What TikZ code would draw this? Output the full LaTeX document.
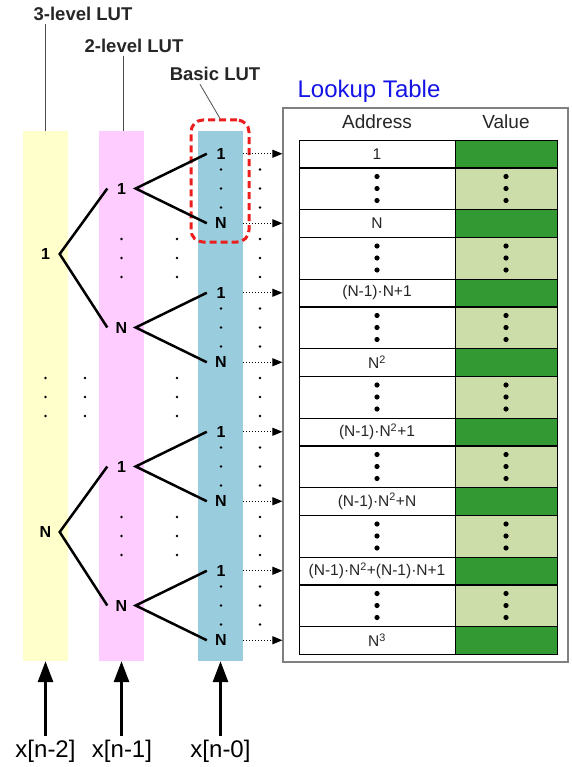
\documentclass[tikz,border=0pt]{standalone}
\usepackage{fontspec}
\setmainfont{Liberation Sans}
\usetikzlibrary{positioning, arrows.meta, calc}

\definecolor{bandyellow}{RGB}{255,255,204}
\definecolor{bandpink}{RGB}{255,204,255}
\definecolor{bandblue}{RGB}{153,204,221}
\definecolor{valuefull}{RGB}{51,153,51}
\definecolor{valuegap}{RGB}{204,221,170}
\definecolor{titleblue}{RGB}{20,20,230}
\definecolor{dashred}{RGB}{235,30,30}

\tikzset{
    band/.style={minimum width=45pt, minimum height=530pt, inner sep=0pt}, % shaded column of one LUT level
    entry/.style={font=\fontsize{16}{16}\selectfont\bfseries, minimum width=28pt, inner sep=0pt}, % the 1 ... N labels
    branch/.style={line width=2.5pt},
    levelname/.style={font=\fontsize{18.5}{18.5}\selectfont\bfseries, text=black!85},
    leader/.style={draw=black!70, line width=0.8pt},
    tap/.style={dotted, line width=1pt, -{Triangle[length=10pt, width=8pt]}}, % address going into the table
    feed/.style={line width=3pt, -{Triangle[length=21pt, width=15pt]}},
    addrcell/.style={draw, minimum width=156pt, minimum height=27.5pt, inner sep=0pt, font=\fontsize{15.5}{15.5}\selectfont, text=black!85},
    gapcell/.style={draw, minimum width=156pt, minimum height=41.5pt, inner sep=0pt},
    valcell/.style={draw, minimum width=102pt, inner sep=0pt},
    head/.style={font=\fontsize{19}{19}\selectfont, text=black!85},
    inname/.style={font=\fontsize{24}{24}\selectfont, anchor=base},
}

% three small dots, spread vertically round (x,y)
\newcommand{\gapdots}[2]{\foreach \dy in {-19,0,19} {\fill ({#1},{#2+(\dy)}) circle (1.3pt);}}
% bigger vertical ellipsis used inside the table
\newcommand{\rowdots}[2]{\foreach \dy in {-12,0,12} {\fill ({#1},{#2+(\dy)}) circle (2.6pt);}}

\begin{document}
\begin{tikzpicture}[x=1pt, y=-1pt]
    \useasboundingbox (0,0) rectangle (571,767);

    % level bands
    \node[band, fill=bandyellow] (col3) at (45.5,396) {};
    \node[band, fill=bandpink] (col2) at (121.5,396) {};
    \node[band, fill=bandblue] (col1) at (220.5,396) {};

    % level names
    \node[levelname] (l3) at (83,14) {3-level LUT};
    \node[levelname] (l2) at (134,46) {2-level LUT};
    \node[levelname] (l1) at (215,74) {Basic LUT};
    \draw[leader] (col3.north) -- (col3.north |- l3.south);
    \draw[leader] ([xshift=2pt]col2.north) -- ([xshift=2pt]col2.north |- l2.south);

    \node[draw=dashred, dashed, dash pattern=on 7pt off 4pt, line width=3pt, rounded corners=12pt,
          minimum width=58pt, minimum height=122pt] (basic) at (220,181) {};
    \draw[leader] ([xshift=-15pt]l1.south) -- (basic.north);

    % basic LUT entries
    \foreach \k in {0,...,3} {
        \node[entry] (bo\k) at (221,{153.75+139*\k}) {1};
        \node[entry] (bn\k) at (221,{223.25+139*\k}) {N};
    }
    % 2-level and 3-level entries
    \node[entry] (p0) at (121.5,188.5) {1};
    \node[entry] (p1) at (121.5,327.5) {N};
    \node[entry] (p2) at (121.5,466.5) {1};
    \node[entry] (p3) at (121.5,605.5) {N};
    \node[entry] (y0) at (45.5,254) {1};
    \node[entry] (y1) at (45.5,532) {N};

    \foreach \k in {0,...,3}
        \draw[branch] (bo\k.west) -- (p\k.east) -- (bn\k.west);
    \draw[branch] (p0.west) -- (y0.east) -- (p1.west);
    \draw[branch] (p2.west) -- (y1.east) -- (p3.west);

    % skipped entries
    \foreach \r in {0,2,4,6} {\gapdots{221}{188.5+69.5*\r}}
    \foreach \r in {0,...,6} {\gapdots{260}{188.5+69.5*\r}}
    \foreach \r in {1,3,5} {\gapdots{177}{188.5+69.5*\r}}
    \foreach \r in {1,5} {\gapdots{121.5}{188.5+69.5*\r}}
    \gapdots{85}{397}
    \gapdots{45.5}{397}

    % lookup table
    \node[font=\fontsize{24}{24}\selectfont, text=titleblue] (title) at (369,91) {Lookup Table};
    \node[draw=black!50, line width=1.2pt, minimum width=285pt, minimum height=554pt, inner sep=0pt] (table) at (425.5,385) {};
    \node[head] (addrhead) at (377,122) {Address};
    \node[head] (valhead) at (506,122) {Value};

    \foreach \i in {0,...,6} {
        \node[gapcell] (g\i) at (377,{188.5+69.5*\i}) {};
        \node[valcell, fill=valuegap, minimum height=41.5pt] (w\i) at (506,{188.5+69.5*\i}) {};
        \rowdots{377}{188.5+69.5*\i}
        \rowdots{506}{188.5+69.5*\i}
    }
    \foreach \txt [count=\i from 0] in {{1}, {N}, {(N-1)·N+1}, {N\textsuperscript{2}},
            {(N-1)·N\textsuperscript{2}+1}, {(N-1)·N\textsuperscript{2}+N},
            {(N-1)·N\textsuperscript{2}+(N-1)·N+1}, {N\textsuperscript{3}}} {
        \node[addrcell, fill=white] (a\i) at (377,{153.75+69.5*\i}) {\txt};
        \node[valcell, fill=valuefull, minimum height=27.5pt] (v\i) at (506,{153.75+69.5*\i}) {};
    }

    % addresses from the basic LUT
    \foreach \k in {0,...,3} {
        \draw[tap] (bo\k -| col1.east) -- (bo\k -| table.west);
        \draw[tap] (bn\k -| col1.east) -- (bn\k -| table.west);
    }

    % inputs
    \node[inname] (in2) at (45.5,757) {x[n-2]};
    \node[inname] (in1) at (122,757) {x[n-1]};
    \node[inname] (in0) at (220.5,757) {x[n-0]};
    \draw[feed] (in2.north -| col3.south) -- (col3.south);
    \draw[feed] (in1.north -| col2.south) -- (col2.south);
    \draw[feed] (in0.north -| col1.south) -- (col1.south);
\end{tikzpicture}
\end{document}
